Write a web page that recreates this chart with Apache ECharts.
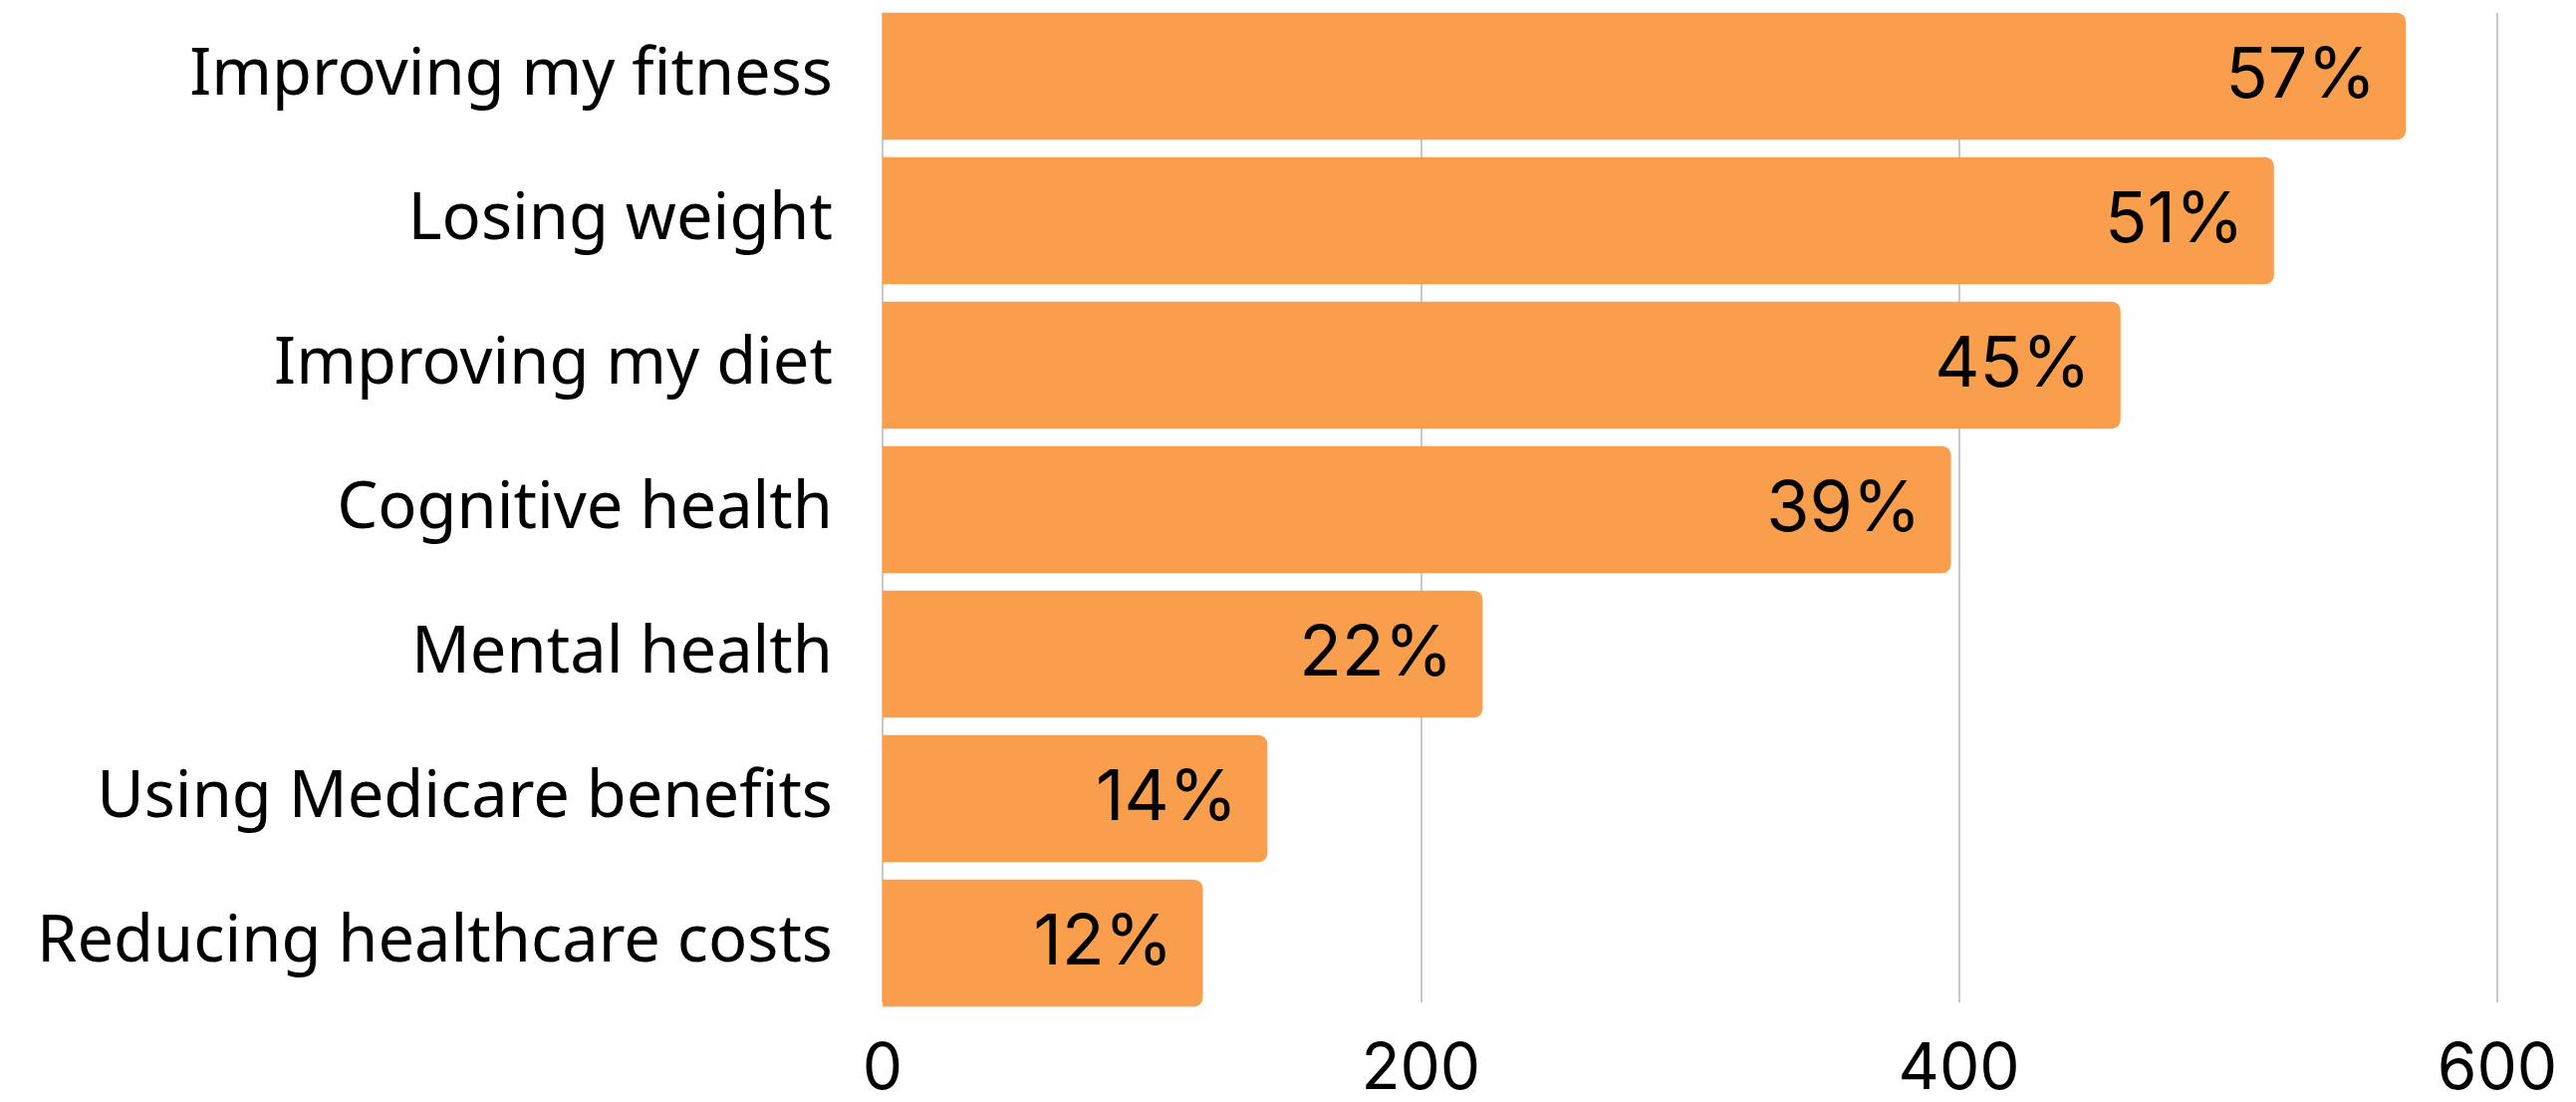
<!DOCTYPE html>
<html><head><meta charset="utf-8">
<script src="https://cdn.jsdelivr.net/npm/echarts@6/dist/echarts.min.js"></script>
<style>html,body{margin:0;padding:0;background:#fff}#c{width:2586px;height:1106px}</style>
</head><body><div id="c"></div>
<script>
const categories = ["Improving my fitness","Losing weight","Improving my diet","Cognitive health","Mental health","Using Medicare benefits","Reducing healthcare costs"];
const values = [566, 517, 460, 397, 223, 143, 119];
const percentLabels = ["57%","51%","45%","39%","22%","14%","12%"];
const xTicks = [0, 200, 400, 600];

const chart = echarts.init(document.getElementById('c'));
chart.setOption({
  animation: false,
  grid: [
    {left: 886, right: 79, top: 4, bottom: 87},
    {left: 886, right: 79, top: 13, bottom: 98}
  ],
  xAxis: [
    {gridIndex: 0, type: 'value', min: xTicks[0], max: xTicks[xTicks.length-1], interval: 200,
     axisLine: {show: false}, axisTick: {show: false}, axisLabel: {show: false}, splitLine: {show: false}},
    {gridIndex: 1, type: 'value', min: xTicks[0], max: xTicks[xTicks.length-1], interval: 200,
     axisLine: {show: false}, axisTick: {show: false},
     axisLabel: {show: true, fontFamily: 'Inter', fontSize: 64, color: '#000', margin: 36},
     splitLine: {show: true, lineStyle: {color: '#c8c8c8', width: 2}}}
  ],
  yAxis: [
    {gridIndex: 0, type: 'category', data: categories, inverse: true,
     axisLine: {show: false}, axisTick: {show: false},
     axisLabel: {fontFamily: 'Noto Sans', fontSize: 65, color: '#000', margin: 50, padding: [6, 0, 0, 0]}},
    {gridIndex: 1, type: 'value', show: false, min: 0, max: 1}
  ],
  series: [{
    type: 'bar', xAxisIndex: 0, yAxisIndex: 0,
    data: values, barCategoryGap: '12%',
    itemStyle: {color: '#F89E4D', borderRadius: [0, 9, 9, 0]},
    label: {show: true, position: 'insideRight', distance: 30,
      fontFamily: 'Inter', fontSize: 70, color: '#000', padding: [5, 0, 0, 0],
      formatter: p => percentLabels[p.dataIndex]}
  }]
});
</script></body></html>
